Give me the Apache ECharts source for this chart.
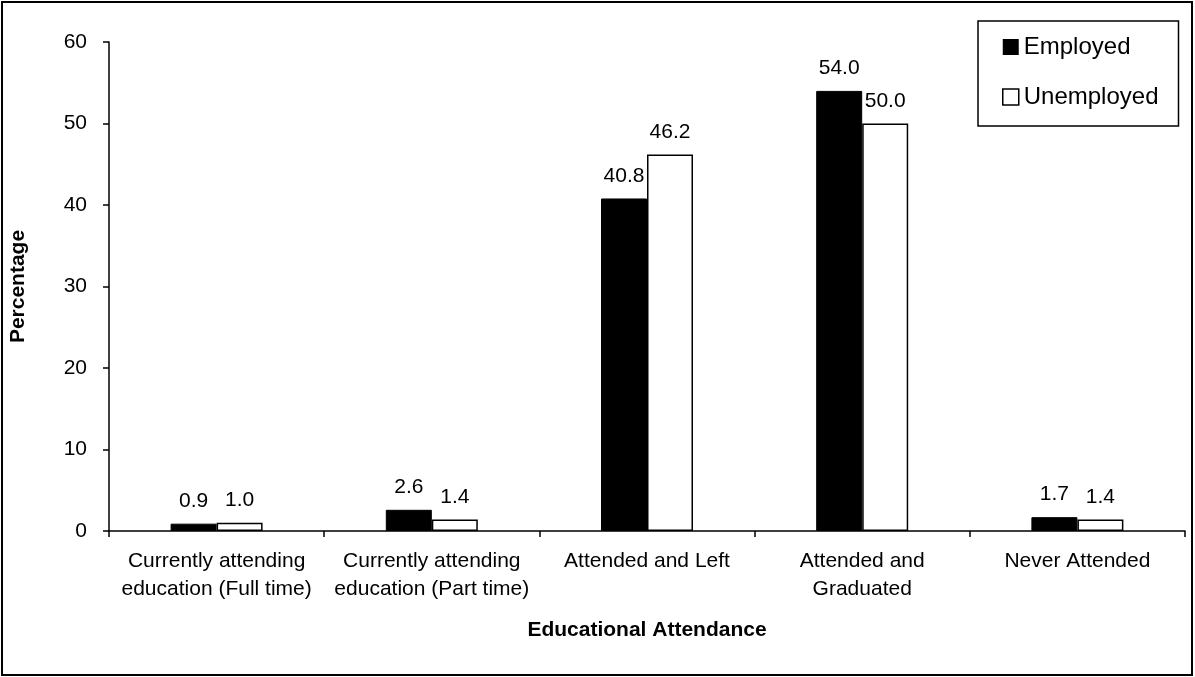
<!DOCTYPE html>
<html>
<head>
<meta charset="utf-8">
<script src="https://cdn.jsdelivr.net/npm/echarts@6/dist/echarts.min.js"></script>
<style>
html,body{margin:0;padding:0;background:#fff;}
#chart{width:1195px;height:677px;}
</style>
</head>
<body>
<div id="chart"></div>
<script>
var categories = [
  'Currently attending\neducation (Full time)',
  'Currently attending\neducation (Part time)',
  'Attended and Left',
  'Attended and\nGraduated',
  'Never Attended'
];
var employed = [0.9, 2.6, 40.8, 54.0, 1.7];
var unemployed = [1.0, 1.4, 46.2, 50.0, 1.4];
var yTicks = [0, 10, 20, 30, 40, 50, 60];

var FONT = 'Liberation Sans, Arial, sans-serif';
var chart = echarts.init(document.getElementById('chart'));
var labelOpt = {
  show: true,
  position: 'top',
  distance: 12,
  color: '#000',
  fontFamily: FONT,
  fontSize: 21,
  formatter: function (p) { return p.value.toFixed(1); }
};
chart.setOption({
  animation: false,
  backgroundColor: '#fff',
  textStyle: { fontFamily: FONT, color: '#000' },
  graphic: [{
    type: 'rect',
    shape: { x: 2, y: 2, width: 1190, height: 673 },
    style: { fill: 'none', stroke: '#000', lineWidth: 2 },
    z: 100
  }],
  grid: { left: 101, right: 10, top: 42, bottom: 146, containLabel: false },
  legend: {
    orient: 'vertical',
    left: 978,
    top: 21,
    padding: [14, 20, 17, 24],
    itemWidth: 16,
    itemHeight: 16,
    itemGap: 26,
    borderColor: '#000',
    borderWidth: 1.5,
    textStyle: { fontFamily: FONT, fontSize: 24, color: '#000', lineHeight: 24 },
    data: [
      { name: 'Employed', icon: 'rect', itemStyle: { color: '#000', borderWidth: 0 } },
      { name: 'Unemployed', icon: 'rect', itemStyle: { color: '#fff', borderColor: '#000', borderWidth: 1.5 } }
    ]
  },
  xAxis: {
    type: 'category',
    data: categories,
    name: 'Educational Attendance',
    nameLocation: 'middle',
    nameGap: 89,
    nameTextStyle: { fontFamily: FONT, fontSize: 21, fontWeight: 'bold', color: '#000' },
    axisLine: { lineStyle: { color: '#000', width: 1.5 } },
    axisTick: { show: true, length: 6, lineStyle: { color: '#000', width: 1.5 } },
    axisLabel: { color: '#000', fontFamily: FONT, fontSize: 21, lineHeight: 28, margin: 16, interval: 0 }
  },
  yAxis: {
    type: 'value',
    min: 0,
    max: 60,
    interval: 10,
    name: 'Percentage',
    nameLocation: 'middle',
    nameGap: 80,
    nameRotate: 90,
    nameTextStyle: { fontFamily: FONT, fontSize: 21, fontWeight: 'bold', color: '#000' },
    axisLine: { show: true, lineStyle: { color: '#000', width: 1.5 } },
    axisTick: { show: true, length: 6, lineStyle: { color: '#000', width: 1.5 } },
    splitLine: { show: false },
    axisLabel: {
      color: '#000', fontFamily: FONT, fontSize: 21, margin: 22,
      formatter: function (v) { return yTicks.indexOf(v) >= 0 ? String(v) : ''; }
    }
  },
  series: [
    {
      name: 'Employed',
      type: 'bar',
      data: employed,
      barWidth: 46,
      barGap: '0%',
      itemStyle: { color: '#000', borderColor: '#000', borderWidth: 1 },
      label: labelOpt
    },
    {
      name: 'Unemployed',
      type: 'bar',
      data: unemployed,
      barWidth: 46,
      itemStyle: { color: '#fff', borderColor: '#000', borderWidth: 1.5 },
      label: labelOpt
    }
  ]
});
</script>
</body>
</html>
